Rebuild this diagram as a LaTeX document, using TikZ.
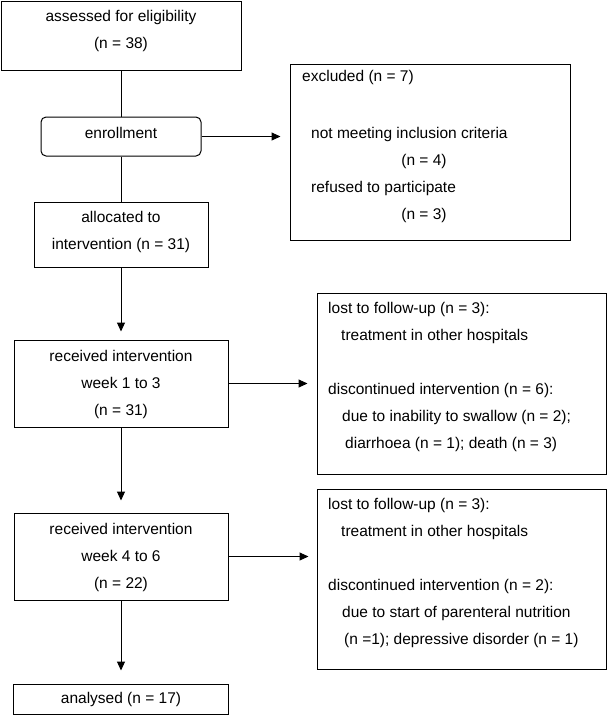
\documentclass[tikz,border=0pt]{standalone}
\usepackage{fontspec}
\setmainfont{Liberation Sans}
\usetikzlibrary{arrows.meta}
\begin{document}
\begin{tikzpicture}[x=1pt,y=-1pt,
  box/.style={draw, line width=1pt, inner sep=0pt},
  lbl/.style={inner sep=0pt, font=\fontsize{15.5}{18}\selectfont},
  link/.style={line width=1pt},
  flow/.style={line width=1pt, -{Triangle[length=9pt,width=8pt]}},
]
\useasboundingbox (0,0) rectangle (609,724);

% boxes
\node[box, minimum width=240pt, minimum height=69pt] (assess) at (121,35.5) {};
\node[box, rounded corners=5pt, minimum width=160pt, minimum height=39pt] (enroll) at (121,136.5) {};
\node[box, minimum width=174pt, minimum height=65pt] (alloc) at (121,234.5) {};
\node[box, minimum width=280pt, minimum height=176pt] (excl) at (430,152) {};
\node[box, minimum width=214pt, minimum height=87pt] (recv1) at (121,383.5) {};
\node[box, minimum width=289pt, minimum height=181pt] (lost1) at (461.5,383.5) {};
\node[box, minimum width=214pt, minimum height=87pt] (recv2) at (121,556.5) {};
\node[box, minimum width=289pt, minimum height=180pt] (lost2) at (461.5,579) {};
\node[box, minimum width=215pt, minimum height=30pt] (anal) at (121,699) {};

% texts
\node[lbl, anchor=base] (t1a) at (121,21) {assessed for eligibility};
\node[lbl, anchor=base] (t1b) at (121,48) {(n = 38)};
\node[lbl, anchor=base] (t2) at (121,138.5) {enrollment};
\node[lbl, anchor=base] (t3a) at (121,222) {allocated to};
\node[lbl, anchor=base] (t3b) at (121,249) {intervention (n = 31)};

\node[lbl, anchor=base west] (t4a) at (302,81) {excluded (n = 7)};
\node[lbl, anchor=base west] (t4b) at (311,138) {not meeting inclusion criteria};
\node[lbl, anchor=base] (t4c) at (424,165) {(n = 4)};
\node[lbl, anchor=base west] (t4d) at (311,192) {refused to participate};
\node[lbl, anchor=base] (t4e) at (424,219) {(n = 3)};

\node[lbl, anchor=base] (t5a) at (121,361.5) {received intervention};
\node[lbl, anchor=base] (t5b) at (121,388.5) {week 1 to 3};
\node[lbl, anchor=base] (t5c) at (121,415.5) {(n = 31)};

\node[lbl, anchor=base west] (t6a) at (328,313) {lost to follow-up (n = 3):};
\node[lbl, anchor=base west] (t6b) at (341,340) {treatment in other hospitals};
\node[lbl, anchor=base west] (t6c) at (328,394) {discontinued intervention (n = 6):};
\node[lbl, anchor=base west] (t6d) at (342,421) {due to inability to swallow (n = 2);};
\node[lbl, anchor=base west] (t6e) at (345,448) {diarrhoea (n = 1); death (n = 3)};

\node[lbl, anchor=base] (t7a) at (121,534.5) {received intervention};
\node[lbl, anchor=base] (t7b) at (121,561.5) {week 4 to 6};
\node[lbl, anchor=base] (t7c) at (121,588.5) {(n = 22)};

\node[lbl, anchor=base west] (t8a) at (328,509) {lost to follow-up (n = 3):};
\node[lbl, anchor=base west] (t8b) at (341,536) {treatment in other hospitals};
\node[lbl, anchor=base west] (t8c) at (328,590) {discontinued intervention (n = 2):};
\node[lbl, anchor=base west] (t8d) at (342,617) {due to start of parenteral nutrition};
\node[lbl, anchor=base west] (t8e) at (344,644) {(n =1); depressive disorder (n = 1)};

\node[lbl, anchor=base] (t9) at (121,703) {analysed (n = 17)};

% connectors
\draw[link] (assess) -- (enroll);
\draw[flow, shorten >=9pt] (enroll.east) -- (enroll.east -| excl.west);
\draw[link] (enroll) -- (alloc);
\draw[flow, shorten >=8pt] (alloc.south) -- (recv1.north);
\draw[flow, shorten >=9pt] (recv1.east) -- (recv1.east -| lost1.west);
\draw[flow, shorten >=12pt] (recv1.south) -- (recv2.north);
\draw[flow, shorten >=8pt] (recv2.east) -- (recv2.east -| lost2.west);
\draw[flow, shorten >=13pt] (recv2.south) -- (anal.north);
\end{tikzpicture}
\end{document}
